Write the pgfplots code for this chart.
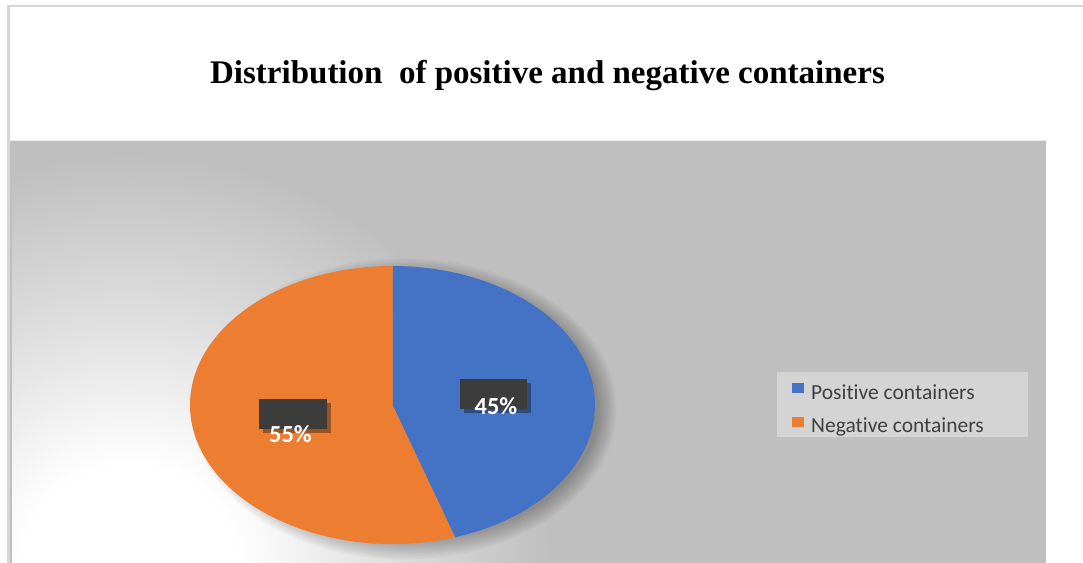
\documentclass[border=0pt]{standalone}
\usepackage{pgfplots}
\pgfplotsset{compat=1.18}
\usepackage{pgfplotstable}
\usepackage{fontspec}
\setmainfont{Carlito}[Ligatures={NoCommon}]
\newfontfamily\titlefont{Liberation Serif}
\definecolor{pieblue}{HTML}{4472C4}
\definecolor{pieorange}{HTML}{ED7D31}
\definecolor{bggray}{HTML}{BFBFBF}
\definecolor{legbg}{HTML}{D4D4D4}
\definecolor{legtext}{HTML}{404040}
\definecolor{framegray}{HTML}{D6D6D6}
\definecolor{lblbox}{HTML}{3C3C3C}
\pgfdeclareradialshading{bgglow}{\pgfpoint{0bp}{0bp}}{color(0bp)=(white); color(3.9bp)=(white); color(8.6bp)=(white!55!bggray); color(15bp)=(bggray); color(50bp)=(bggray)}
\pgfplotstableread{
label value
Positive 45
Negative 55
}\piedata
\begin{document}
\begin{tikzpicture}
\pgfplotstablegetelem{0}{value}\of\piedata \let\vA\pgfplotsretval
\pgfplotstablegetelem{1}{value}\of\piedata \let\vB\pgfplotsretval
\pgfmathsetmacro\aA{90-3.6*\vA}
\pgfmathsetmacro\aB{\aA-3.6*\vB}
\begin{axis}[
  scale only axis, width=1083bp, height=563bp,
  xmin=0, xmax=1083, ymin=0, ymax=563, y dir=reverse,
  hide axis, clip=false]
% canvas
\fill[white] (axis cs:0,0) rectangle (axis cs:1083,563);
% frame
\draw[framegray, line width=2bp] (axis cs:8.5,570) -- (axis cs:8.5,6.5) -- (axis cs:1083,6.5);
% plot area background
\fill[bggray] (axis cs:10,139.5) rectangle (axis cs:1046,572);
\begin{scope}
\clip (axis cs:12,142) rectangle (axis cs:1044,572);
\shade[shading=bgglow] (axis cs:130,575) circle[radius=700bp];
\end{scope}
\draw[white!70!bggray, line width=1bp] (axis cs:10,140) -- (axis cs:1046,140);
% pie shadow
\pgfplotsinvokeforeach{1,...,12}{
  \fill[black, opacity=0.022] (axis cs:404,409) ellipse[x radius={194+1.6*#1 bp}, y radius={132+1.6*#1 bp}];
}
% pie wedges
\fill[pieblue] (axis cs:392.5,405) -- ++(90:202.5bp and 139bp)
  arc[start angle=90, end angle=\aA, x radius=202.5bp, y radius=139bp] -- cycle;
\fill[pieorange] (axis cs:392.5,405) -- ++(\aA:202.5bp and 139bp)
  arc[start angle=\aA, end angle=\aB, x radius=202.5bp, y radius=139bp] -- cycle;
% data labels
\fill[black, opacity=0.35] (axis cs:464,383) rectangle (axis cs:531,413);
\fill[lblbox] (axis cs:460,379) rectangle (axis cs:527,409);
\fill[black, opacity=0.35] (axis cs:263,403) rectangle (axis cs:331,433);
\fill[lblbox] (axis cs:259,399) rectangle (axis cs:327,429);
\node[anchor=base, text=white, font=\fontsize{24.5bp}{28bp}\selectfont\bfseries, inner sep=0pt] at (axis cs:496,414) {45\%};
\node[anchor=base, text=white, font=\fontsize{24.5bp}{28bp}\selectfont\bfseries, inner sep=0pt] at (axis cs:290.5,442) {55\%};
% legend
\fill[legbg] (axis cs:777,372) rectangle (axis cs:1028,437);
\fill[pieblue] (axis cs:792,383) rectangle (axis cs:804,393);
\fill[pieorange] (axis cs:792,417) rectangle (axis cs:804,427);
\node[anchor=base west, text=legtext, font=\fontsize{21.5bp}{24bp}\selectfont, inner sep=0pt] at (axis cs:811,399) {Positive containers};
\node[anchor=base west, text=legtext, font=\fontsize{21.5bp}{24bp}\selectfont, inner sep=0pt] at (axis cs:811,432) {Negative containers};
% title
\node[anchor=base, font=\titlefont\fontsize{33bp}{40bp}\selectfont\bfseries, inner sep=0pt] at (axis cs:547.5,83.5) {Distribution\ \ of positive and negative containers};
\end{axis}
\pgfresetboundingbox
\useasboundingbox (0,0) rectangle (1083bp,563bp);
\end{tikzpicture}
\end{document}
